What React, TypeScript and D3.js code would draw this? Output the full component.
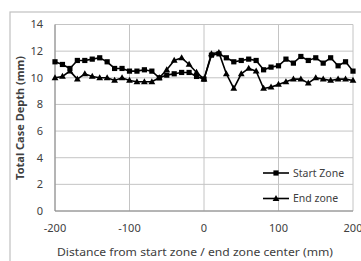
import React from 'react';
import * as d3 from 'd3';

// distance from zone centre (mm)
const distances = [
  -200, -190, -180, -170, -160, -150, -140, -130, -120, -110, -100,
  -90, -80, -70, -60, -50, -40, -30, -20, -10, 0,
  10, 20, 30, 40, 50, 60, 70, 80, 90, 100,
  110, 120, 130, 140, 150, 160, 170, 180, 190, 200,
];
const startZone = [
  11.2, 11.0, 10.7, 11.3, 11.3, 11.4, 11.5, 11.2, 10.7, 10.7, 10.5,
  10.5, 10.6, 10.5, 10.0, 10.2, 10.3, 10.4, 10.4, 10.1, 9.9,
  11.7, 11.8, 11.5, 11.2, 11.3, 11.4, 11.3, 10.6, 10.8, 10.9,
  11.4, 11.1, 11.6, 11.3, 11.5, 11.1, 11.5, 10.9, 11.2, 10.5,
];
const endZone = [
  10.0, 10.1, 10.5, 9.9, 10.3, 10.1, 10.0, 10.0, 9.8, 10.0, 9.8,
  9.7, 9.7, 9.7, 10.0, 10.6, 11.3, 11.5, 11.0, 10.4, 9.9,
  11.8, 11.9, 10.3, 9.2, 10.3, 10.7, 10.5, 9.2, 9.3, 9.5,
  9.7, 9.9, 9.9, 9.6, 10.0, 9.9, 9.8, 9.9, 9.9, 9.8,
];
const xTicks = [-200, -100, 0, 100, 200];
const yTicks = [0, 2, 4, 6, 8, 10, 12, 14];
const seriesNames = ['Start Zone', 'End zone'];

const font = 'Noto Sans, sans-serif';
const grid = '#c4c4c4';
const txt = '#404040';

export default function App() {
  const x = d3.scaleLinear().domain([-200, 200]).range([55, 353]);
  const y = d3.scaleLinear().domain([0, 14]).range([211, 24.5]);
  const line = d3.line<number>()
    .x((_, i) => x(distances[i]))
    .y(d => y(d));

  const square = (cx: number, cy: number, k: string) => (
    <rect key={k} x={cx - 2.6} y={cy - 2.6} width={5.2} height={5.2} fill="#000" />
  );
  const tri = (cx: number, cy: number, k: string) => (
    <path key={k} d={`M${cx},${cy - 3.6}L${cx + 3.4},${cy + 2.4}L${cx - 3.4},${cy + 2.4}Z`} fill="#000" />
  );

  return (
    <svg width={361} height={261} style={{ position: 'fixed', left: 0, top: 0, background: '#fff' }}>
      {/* chart frame */}
      <rect x={10} y={12} width={360} height={260} fill="none" stroke="#c0c0c0" strokeWidth={1.2} />

      {/* grid */}
      {yTicks.map(t => (
        <line key={'gy' + t} x1={x(-200)} x2={x(200)} y1={y(t)} y2={y(t)} stroke={grid} strokeWidth={1} />
      ))}
      {xTicks.map(t => (
        <line key={'gx' + t} x1={x(t)} x2={x(t)} y1={y(0)} y2={y(14)} stroke={grid} strokeWidth={1} />
      ))}
      {/* axes */}
      <line x1={x(-200)} x2={x(200)} y1={y(0)} y2={y(0)} stroke="#888" strokeWidth={1} />
      <line x1={x(-200)} x2={x(-200)} y1={y(0)} y2={y(14)} stroke="#888" strokeWidth={1} />

      {/* tick labels */}
      {yTicks.map(t => (
        <text key={'ty' + t} x={43} y={y(t)} dy="0.35em" textAnchor="end"
          fontFamily={font} fontSize={11} fill={txt}>{t}</text>
      ))}
      {xTicks.map(t => (
        <text key={'tx' + t} x={x(t)} y={228} dy="0.35em" textAnchor="middle"
          fontFamily={font} fontSize={11} fill={txt}>{t}</text>
      ))}

      {/* axis titles */}
      <text x={195} y={252} dy="0.35em" textAnchor="middle" fontFamily={font} fontSize={11}
        textLength={276} lengthAdjust="spacingAndGlyphs" fill={txt}>
        Distance from start zone / end zone center (mm)
      </text>
      <text transform="translate(20,118) rotate(-90)" textAnchor="middle" dy="0.35em"
        fontFamily={font} fontSize={11} fontWeight="bold" fill={txt}>
        Total Case Depth (mm)
      </text>

      {/* series */}
      <path d={line(startZone) || ''} fill="none" stroke="#000" strokeWidth={1.6} />
      <path d={line(endZone) || ''} fill="none" stroke="#000" strokeWidth={1.6} />
      {startZone.map((v, i) => square(x(distances[i]), y(v), 's' + i))}
      {endZone.map((v, i) => tri(x(distances[i]), y(v), 'e' + i))}

      {/* legend */}
      {seriesNames.map((name, i) => {
        const ly = 173 + i * 25.5;
        return (
          <g key={name}>
            <line x1={263} x2={289} y1={ly} y2={ly} stroke="#000" strokeWidth={1.6} />
            {i === 0 ? square(276, ly, 'ls') : tri(276, ly, 'lt')}
            <text x={293} y={ly} dy="0.35em" fontFamily={font} fontSize={10.5} fill={txt}>{name}</text>
          </g>
        );
      })}
    </svg>
  );
}
